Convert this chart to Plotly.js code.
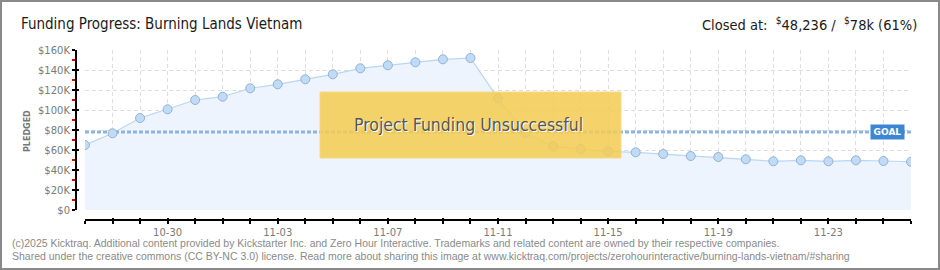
<!DOCTYPE html>
<html>
<head>
<meta charset="utf-8">
<script src="https://cdn.plot.ly/plotly-3.0.1.min.js"></script>
<style>
  html, body { margin: 0; padding: 0; background: #fff; }
  #frame { width: 940px; height: 270px; box-sizing: border-box; border: 2px solid #8a8a8a; background: #fff; overflow: hidden; }
  #chart { width: 936px; height: 266px; }
</style>
</head>
<body>
<div id="frame"><div id="chart"></div></div>
<script>
// ---- data ----
const dates = [
  '2025-10-27','2025-10-28','2025-10-29','2025-10-30','2025-10-31',
  '2025-11-01','2025-11-02','2025-11-03','2025-11-04','2025-11-05',
  '2025-11-06','2025-11-07','2025-11-08','2025-11-09','2025-11-10',
  '2025-11-11','2025-11-12','2025-11-13','2025-11-14','2025-11-15',
  '2025-11-16','2025-11-17','2025-11-18','2025-11-19','2025-11-20',
  '2025-11-21','2025-11-22','2025-11-23','2025-11-24','2025-11-25',
  '2025-11-26'
];
const pledged = [
  65000, 76700, 92000, 100700, 110000,
  113300, 121700, 125700, 130700, 135700,
  141700, 144700, 147700, 150700, 152000,
  111700, 77300, 63700, 61000, 58700,
  57700, 56000, 54000, 53000, 50700,
  48700, 49700, 48700, 49700, 49000,
  48236
];
const goal = 78000;
const goalX = [dates[0], dates[dates.length - 1]];
const goalY = [goal, goal];
const xTickDates = ['2025-10-30','2025-11-03','2025-11-07','2025-11-11','2025-11-15','2025-11-19','2025-11-23'];
const xTickLabels = ['10-30','11-03','11-07','11-11','11-15','11-19','11-23'];
const yTickVals = [0, 20000, 40000, 60000, 80000, 100000, 120000, 140000, 160000];
const yTickText = ['$0','$20K','$40K','$60K','$80K','$100K','$120K','$140K','$160K'];

// ---- geometry (pixels inside the frame) ----
const W = 936, H = 266;
const mL = 74, mR = 27, mT = 48, mB = 48;
const plotW = W - mL - mR, plotH = H - mT - mB;
const xDom0 = 9 / plotW;
const yDom0 = 10 / plotH;
const px = v => (v - 2 - mL) / plotW;      // page x -> paper x
const py = v => (H + 2 - mB - v) / plotH;  // page y -> paper y

const DAY = 86400000;
const tickFont = { family: 'DejaVu Sans, sans-serif', size: 10, color: '#7a7a7a' };
const xRange = [dates[0], dates[dates.length - 1]];
const narrow = 'Liberation Sans Narrow, DejaVu Sans Condensed, sans-serif';

const traces = [
  { // area + line
    x: dates, y: pledged, type: 'scatter', mode: 'lines',
    line: { color: '#b9d6f3', width: 1.2 },
    fill: 'tozeroy', fillcolor: '#edf4fd',
    hoverinfo: 'skip', showlegend: false
  },
  { // goal line
    x: goalX, y: goalY, type: 'scatter', mode: 'lines',
    line: { color: '#8db4de', width: 3, dash: '4px,2px' },
    hoverinfo: 'skip', showlegend: false
  },
  { // markers
    x: dates, y: pledged, type: 'scatter', mode: 'markers',
    marker: { size: 9, color: '#c2dbf5', line: { color: '#90b2da', width: 1 } },
    hoverinfo: 'skip', showlegend: false
  },
  { // invisible trace to draw inner tick halves
    x: dates, y: pledged, type: 'scatter', mode: 'markers',
    xaxis: 'x2', yaxis: 'y2',
    marker: { size: 1, opacity: 0 },
    hoverinfo: 'skip', showlegend: false
  }
];

const gridStyle = { gridcolor: '#dedede', griddash: '4px,3px', gridwidth: 1 };

const layout = {
  width: W, height: H,
  margin: { l: mL, r: mR, t: mT, b: mB, pad: 0 },
  paper_bgcolor: '#ffffff', plot_bgcolor: 'rgba(0,0,0,0)',
  showlegend: false,
  xaxis: Object.assign({
    type: 'date', range: xRange, domain: [xDom0, 1],
    anchor: 'free', position: 0,
    tickmode: 'array', tickvals: xTickDates, ticktext: xTickLabels,
    ticks: 'outside', ticklen: 3, tickwidth: 2, tickcolor: '#000',
    minor: Object.assign({ tick0: dates[0], dtick: DAY, ticks: 'outside', ticklen: 3, tickwidth: 2, tickcolor: '#000', showgrid: true }, gridStyle),
    showline: true, linecolor: '#000', linewidth: 2,
    showgrid: true,
    zeroline: false, tickfont: tickFont, fixedrange: true
  }, gridStyle),
  yaxis: Object.assign({
    range: [0, 160000], domain: [yDom0, 1],
    anchor: 'free', position: 0,
    tickmode: 'array', tickvals: yTickVals, ticktext: yTickText,
    ticks: 'outside', ticklen: 3, tickwidth: 2, tickcolor: '#000',
    minor: { dtick: 10000, ticks: 'outside', ticklen: 3, tickwidth: 2, tickcolor: '#e00000', showgrid: false },
    showline: true, linecolor: '#000', linewidth: 2,
    showgrid: true,
    zeroline: false, tickfont: tickFont, fixedrange: true
  }, gridStyle),
  xaxis2: {
    type: 'date', range: xRange, domain: [xDom0, 1],
    overlaying: 'x', anchor: 'free', position: 0,
    tick0: dates[0], dtick: DAY, showticklabels: false,
    ticks: 'inside', ticklen: 2, tickwidth: 2, tickcolor: '#000',
    showline: false, showgrid: false, zeroline: false, fixedrange: true
  },
  yaxis2: {
    range: [0, 160000], domain: [yDom0, 1],
    overlaying: 'y', anchor: 'free', position: 0,
    tickmode: 'array', tickvals: yTickVals, showticklabels: false,
    ticks: 'inside', ticklen: 2, tickwidth: 2, tickcolor: '#000',
    showline: false, showgrid: false, zeroline: false, fixedrange: true
  },
  shapes: [
    { // "unsuccessful" banner
      type: 'rect', xref: 'x domain', yref: 'y domain',
      x0: (320 - 85) / 826, x1: (621 - 85) / 826,
      y0: (210 - 158) / 160, y1: (210 - 92) / 160,
      fillcolor: 'rgba(245,204,82,0.86)',
      line: { color: '#f4da86', width: 1 }, layer: 'above'
    }
  ],
  annotations: [
    {
      text: 'Funding Progress: Burning Lands Vietnam',
      xref: 'paper', yref: 'paper', x: px(19), y: py(24),
      xanchor: 'left', yanchor: 'middle', showarrow: false,
      font: { family: narrow, size: 15, color: '#1a1a1a' }
    },
    {
      text: 'Closed at:  <sup>$</sup>48,236 /  <sup>$</sup>78k (61%)',
      xref: 'paper', yref: 'paper', x: px(919), y: py(24),
      xanchor: 'right', yanchor: 'middle', showarrow: false,
      font: { family: narrow, size: 14.5, color: '#1a1a1a' }
    },
    {
      text: 'PLEDGED',
      xref: 'paper', yref: 'paper', x: px(27), y: py(131),
      xanchor: 'center', yanchor: 'middle', showarrow: false, textangle: -90,
      font: { family: 'DejaVu Sans, sans-serif', size: 8, color: '#777', weight: 'bold' }
    },
    {
      text: 'Project Funding Unsuccessful',
      xref: 'x domain', yref: 'y domain',
      x: (468 - 85) / 826, y: (210 - 125) / 160,
      xanchor: 'center', yanchor: 'middle', showarrow: false,
      font: { family: narrow, size: 17.5, color: '#555', shadow: '1px 1px 0px #ffffff' }
    },
    {
      text: 'GOAL',
      xref: 'x domain', yref: 'y',
      x: (887.5 - 85) / 826, y: goal,
      xanchor: 'center', yanchor: 'middle', showarrow: false,
      width: 33, height: 14, bgcolor: '#3a87d4', borderpad: 0,
      font: { family: 'DejaVu Sans, sans-serif', size: 9, color: '#ffffff', weight: 'bold' }
    },
    {
      text: '(c)2025 Kicktraq. Additional content provided by Kickstarter Inc. and Zero Hour Interactive. Trademarks and related content are owned by their respective companies.',
      xref: 'paper', yref: 'paper', x: px(10), y: py(243),
      xanchor: 'left', yanchor: 'middle', showarrow: false,
      font: { family: 'Liberation Sans, sans-serif', size: 10.5, color: '#8a8a8a' }
    },
    {
      text: 'Shared under the creative commons (CC BY-NC 3.0) license. Read more about sharing this image at www.kicktraq.com/projects/zerohourinteractive/burning-lands-vietnam/#sharing',
      xref: 'paper', yref: 'paper', x: px(10), y: py(256),
      xanchor: 'left', yanchor: 'middle', showarrow: false,
      font: { family: 'Liberation Sans, sans-serif', size: 10.5, color: '#8a8a8a' }
    }
  ]
};

Plotly.newPlot('chart', traces, layout, { staticPlot: true, displayModeBar: false });
</script>
</body>
</html>
